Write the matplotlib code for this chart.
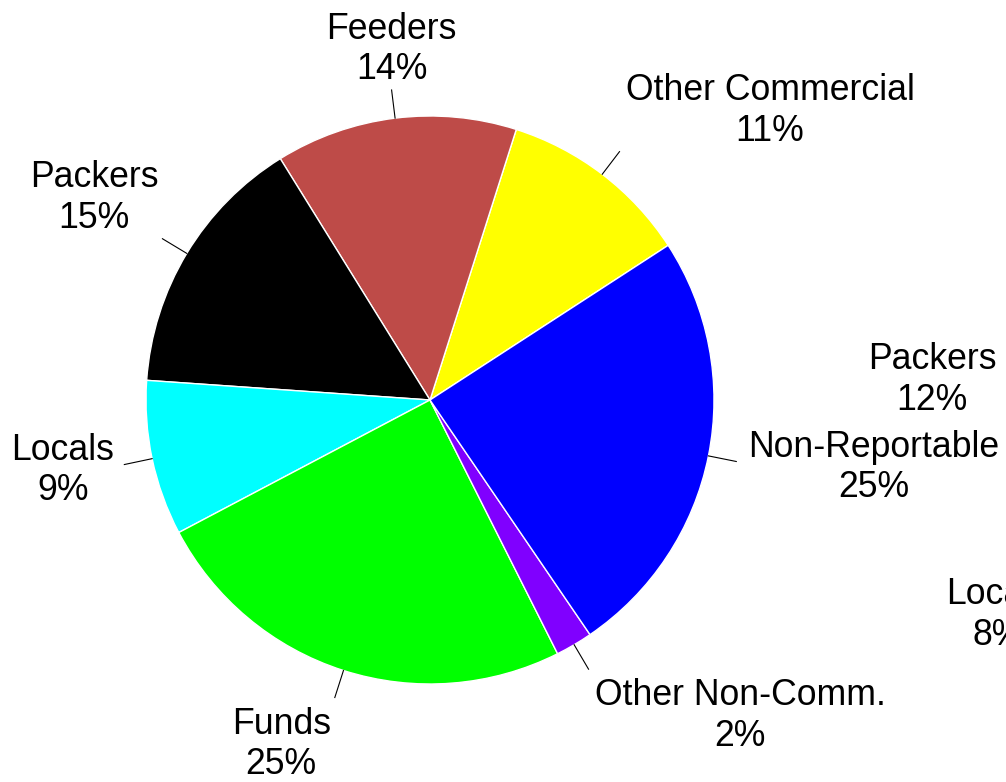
import numpy as np
import matplotlib
matplotlib.use("Agg")
import matplotlib.pyplot as plt

plt.rcParams["font.family"] = ["Liberation Sans", "DejaVu Sans"]

# slices, counterclockwise from the start angle
categories = ["Other Commercial", "Feeders", "Packers", "Locals",
              "Funds", "Other Non-Comm.", "Non-Reportable"]
shares = [10.92, 13.75, 15.06, 8.83, 24.69, 2.11, 24.64]
colors = ["#FFFF00", "#BE4B48", "#000000", "#00FFFF",
          "#00FF00", "#8000FF", "#0000FF"]

# labels of a second chart that show at the right edge
extra_labels = ["Packers", "Locals"]
extra_shares = [12, 8]

W, H = 1006, 782
cx, cy, R = 430, H - 400, 284

fig = plt.figure(figsize=(W / 100, H / 100), dpi=100)
ax = fig.add_axes([0, 0, 1, 1])

wedges, _ = ax.pie(shares, colors=colors, startangle=33, counterclock=True,
                   center=(cx, cy), radius=R,
                   wedgeprops=dict(edgecolor="white", linewidth=1))
ax.set_xlim(0, W)
ax.set_ylim(0, H)
ax.set_aspect("equal")
ax.axis("off")

fs = 25.7
for w, name, val in zip(wedges, categories, shares):
    mid = np.deg2rad((w.theta1 + w.theta2) / 2)
    c, s = np.cos(mid), np.sin(mid)
    x0, y0 = cx + R * c, cy + R * s
    x1, y1 = cx + 1.1 * R * c, cy + 1.1 * R * s
    ax.plot([x0, x1], [y0, y1], color="black", lw=0.8)

    if s > 0.4:
        va, dy = "bottom", 3
    elif s < -0.4:
        va, dy = "top", -9
    else:
        va, dy = "center", -6
    gap = 12 if va == "center" else 6
    if abs(c) < 0.2:
        ha, dx = "center", 0
    elif c < 0:
        ha, dx = "right", -gap + 2
    else:
        ha, dx = "left", gap
    ax.text(x1 + dx, y1 + dy, f"{name}\n{round(val)}%", ha=ha, va=va,
            multialignment="center", fontsize=fs, linespacing=1.2)

# leftover labels from the neighbouring pie
ax.text(932, H - 380, f"{extra_labels[0]}\n{extra_shares[0]}%", ha="center",
        va="center", multialignment="center", fontsize=fs, linespacing=1.2)
ax.text(998, H - 615, f"{extra_labels[1]}\n{extra_shares[1]}%", ha="center",
        va="center", multialignment="center", fontsize=fs, linespacing=1.2)

fig.savefig("out.png", dpi=100, facecolor="white")
